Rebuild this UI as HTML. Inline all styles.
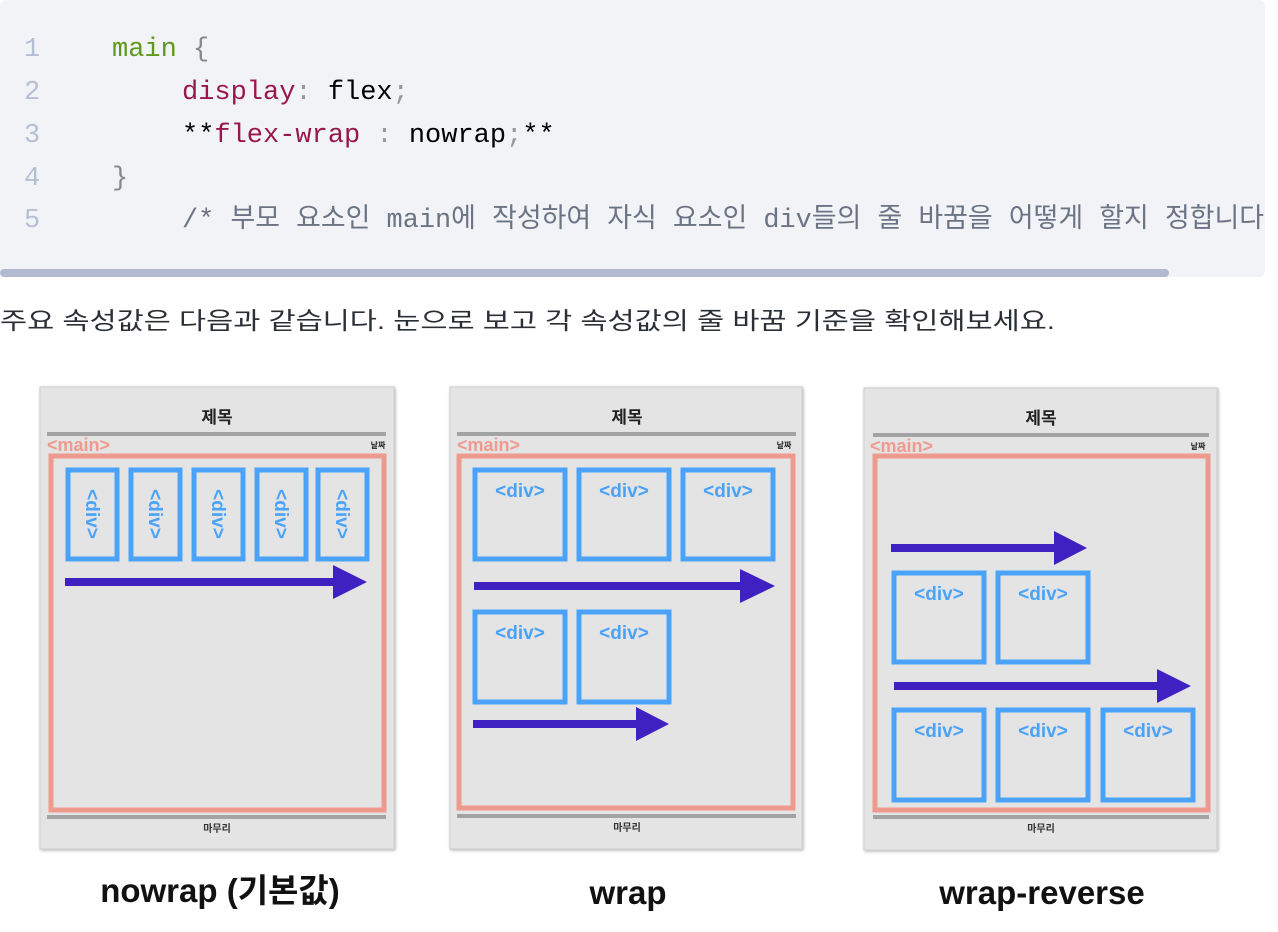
<!DOCTYPE html>
<html><head><meta charset="utf-8"><style>
html,body{margin:0;padding:0;background:#fff;width:1278px;height:932px;overflow:hidden}
svg{display:block}
.mono{font-family:"Liberation Mono","Noto Sans CJK KR",monospace;font-size:27px}
.ln{fill:#b4bfd3}
.kr{font-family:"Liberation Sans","Noto Sans CJK KR",sans-serif}
.div{font-family:"Liberation Sans",sans-serif;font-weight:bold;font-size:19px;fill:#4aa3f8}
</style></head><body>
<svg width="1278" height="932" viewBox="0 0 1278 932">
<rect x="0" y="0" width="1265" height="277" rx="6" fill="#f2f3f7"/>
<rect x="0" y="269" width="1169" height="8" rx="4" fill="#b1bace"/>
<g class="mono">
<text x="24" y="56" class="ln">1</text>
<text x="24" y="99" class="ln">2</text>
<text x="24" y="142" class="ln">3</text>
<text x="24" y="185" class="ln">4</text>
<text x="24" y="227" class="ln">5</text>
<text x="112" y="56"><tspan fill="#5f9a1c">main</tspan><tspan fill="#888"> {</tspan></text>
<text x="182" y="99"><tspan fill="#98174f">display</tspan><tspan fill="#999">: </tspan><tspan fill="#000">flex</tspan><tspan fill="#999">;</tspan></text>
<text x="182" y="142" xml:space="preserve"><tspan fill="#000">**</tspan><tspan fill="#98174f">flex-wrap</tspan><tspan fill="#999"> : </tspan><tspan fill="#000">nowrap</tspan><tspan fill="#999">;</tspan><tspan fill="#000">**</tspan></text>
<text x="112" y="185" fill="#888">}</text>
<text x="182" y="227" fill="#6b7484" xml:space="preserve" textLength="1082" lengthAdjust="spacingAndGlyphs">/* 부모 요소인 main에 작성하여 자식 요소인 div들의 줄 바꿈을 어떻게 할지 정합니다</text>
</g>
<text x="0" y="329" class="kr" font-size="24" fill="#2b2f36" textLength="1055" lengthAdjust="spacingAndGlyphs">주요 속성값은 다음과 같습니다. 눈으로 보고 각 속성값의 줄 바꿈 기준을 확인해보세요.</text>

<defs>
<filter id="sh" x="-5%" y="-5%" width="110%" height="110%"><feDropShadow dx="1" dy="1" stdDeviation="1.5" flood-color="#000" flood-opacity="0.3"/></filter>
</defs>

<!-- panel template -->
<g id="p1">
<rect x="40" y="387" width="354" height="462" fill="#e4e4e4" stroke="#cfcfcf" filter="url(#sh)"/>
<text x="217" y="423" text-anchor="middle" class="kr" font-weight="bold" font-size="17" fill="#222">제목</text>
<rect x="47" y="432" width="339" height="4" fill="#a3a3a3"/>
<text x="47" y="451" class="kr" font-weight="bold" font-size="18" fill="#ef9a8f">&lt;main&gt;</text>
<text x="378" y="448" text-anchor="middle" class="kr" font-weight="bold" font-size="8" fill="#222">날짜</text>
<rect x="51" y="456" width="333" height="354" fill="none" stroke="#ef9a8f" stroke-width="5"/>
<rect x="47" y="815" width="339" height="4" fill="#a3a3a3"/>
<text x="217" y="832" text-anchor="middle" class="kr" font-weight="bold" font-size="10" fill="#333">마무리</text>
</g>
<g id="p2" transform="translate(410,0)">
<rect x="40" y="387" width="352" height="462" fill="#e4e4e4" stroke="#cfcfcf" filter="url(#sh)"/>
<text x="217" y="423" text-anchor="middle" class="kr" font-weight="bold" font-size="17" fill="#222">제목</text>
<rect x="47" y="432" width="339" height="4" fill="#a3a3a3"/>
<text x="47" y="451" class="kr" font-weight="bold" font-size="18" fill="#ef9a8f">&lt;main&gt;</text>
<text x="374" y="448" text-anchor="middle" class="kr" font-weight="bold" font-size="8" fill="#222">날짜</text>
<rect x="49" y="456" width="334" height="352" fill="none" stroke="#ef9a8f" stroke-width="5"/>
<rect x="47" y="814" width="339" height="4" fill="#a3a3a3"/>
<text x="217" y="831" text-anchor="middle" class="kr" font-weight="bold" font-size="10" fill="#333">마무리</text>
</g>
<g id="p3" transform="translate(824,1)">
<rect x="40" y="387" width="353" height="462" fill="#e4e4e4" stroke="#cfcfcf" filter="url(#sh)"/>
<text x="217" y="423" text-anchor="middle" class="kr" font-weight="bold" font-size="17" fill="#222">제목</text>
<rect x="49" y="432" width="336" height="4" fill="#a3a3a3"/>
<text x="46" y="451" class="kr" font-weight="bold" font-size="18" fill="#ef9a8f">&lt;main&gt;</text>
<text x="374" y="448" text-anchor="middle" class="kr" font-weight="bold" font-size="8" fill="#222">날짜</text>
<rect x="51" y="455" width="333" height="354" fill="none" stroke="#ef9a8f" stroke-width="5"/>
<rect x="49" y="814" width="336" height="4" fill="#a3a3a3"/>
<text x="217" y="831" text-anchor="middle" class="kr" font-weight="bold" font-size="10" fill="#333">마무리</text>
</g>

<!-- panel1 divs -->
<g fill="none" stroke="#4aa3f8" stroke-width="5">
<rect x="68" y="470" width="49" height="89"/>
<rect x="131" y="470" width="49" height="89"/>
<rect x="194" y="470" width="49" height="89"/>
<rect x="257" y="470" width="49" height="89"/>
<rect x="318" y="470" width="49" height="89"/>
<!-- panel2 -->
<rect x="475" y="470" width="90" height="89"/>
<rect x="579" y="470" width="90" height="89"/>
<rect x="683" y="470" width="90" height="89"/>
<rect x="475" y="612" width="90" height="90"/>
<rect x="579" y="612" width="90" height="90"/>
<!-- panel3 -->
<rect x="894" y="573" width="90" height="89"/>
<rect x="998" y="573" width="90" height="89"/>
<rect x="894" y="710" width="90" height="90"/>
<rect x="998" y="710" width="90" height="90"/>
<rect x="1103" y="710" width="90" height="90"/>
</g>
<g class="div">
<text transform="translate(86,514) rotate(90)" text-anchor="middle">&lt;div&gt;</text>
<text transform="translate(149,514) rotate(90)" text-anchor="middle">&lt;div&gt;</text>
<text transform="translate(212,514) rotate(90)" text-anchor="middle">&lt;div&gt;</text>
<text transform="translate(275,514) rotate(90)" text-anchor="middle">&lt;div&gt;</text>
<text transform="translate(336,514) rotate(90)" text-anchor="middle">&lt;div&gt;</text>
<g text-anchor="middle">
<text x="520" y="497">&lt;div&gt;</text><text x="624" y="497">&lt;div&gt;</text><text x="728" y="497">&lt;div&gt;</text>
<text x="520" y="639">&lt;div&gt;</text><text x="624" y="639">&lt;div&gt;</text>
<text x="939" y="600">&lt;div&gt;</text><text x="1043" y="600">&lt;div&gt;</text>
<text x="939" y="737">&lt;div&gt;</text><text x="1043" y="737">&lt;div&gt;</text><text x="1148" y="737">&lt;div&gt;</text>
</g>
</g>
<!-- arrows -->
<g fill="#3f20c0">
<rect x="65" y="578" width="272" height="8"/><polygon points="333,565 367,582 333,599"/>
<rect x="474" y="582" width="270" height="8"/><polygon points="740,569 775,586 740,603"/>
<rect x="473" y="720" width="170" height="8"/><polygon points="636,707 669,724 636,741"/>
<rect x="891" y="544" width="170" height="8"/><polygon points="1054,531 1087,548 1054,565"/>
<rect x="894" y="682" width="270" height="8"/><polygon points="1157,669 1191,686 1157,703"/>
</g>
<g class="kr" font-weight="bold" font-size="33" fill="#111" text-anchor="middle">
<text x="220" y="902">nowrap (기본값)</text>
<text x="628" y="904">wrap</text>
<text x="1042" y="904">wrap-reverse</text>
</g>
</svg>
</body></html>
